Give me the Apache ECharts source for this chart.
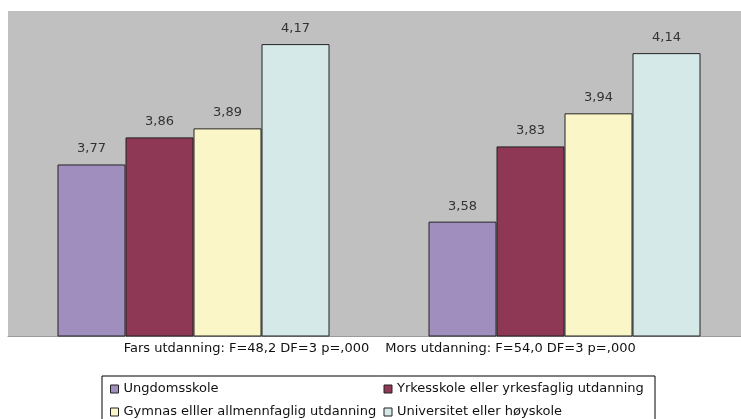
<!DOCTYPE html>
<html>
<head>
<meta charset="utf-8">
<script src="https://cdn.jsdelivr.net/npm/echarts@6/dist/echarts.min.js"></script>
<style>
  html, body { margin: 0; padding: 0; background: #ffffff; overflow: hidden; }
  /* the plot runs a few pixels past the right edge of the window */
  #chart { width: 750px; height: 419px; }
</style>
</head>
<body>
<div id="chart"></div>
<script>
// Groups along the x axis (father's / mother's education, with ANOVA result)
const categories = [
  'Fars utdanning: F=48,2 DF=3 p=,000',
  'Mors utdanning: F=54,0 DF=3 p=,000'
];

// Education levels (one series each)
const seriesNames = [
  'Ungdomsskole',
  'Yrkesskole eller yrkesfaglig utdanning',
  'Gymnas elller allmennfaglig utdanning',
  'Universitet eller høyskole'
];

// Mean scores per group, one array per education level
const ungdomsskole = [3.77, 3.58];
const yrkesskole = [3.86, 3.83];
const gymnas = [3.89, 3.94];
const universitet = [4.17, 4.14];

const seriesValues = [ungdomsskole, yrkesskole, gymnas, universitet];
const seriesColors = ['#A08FBE', '#8E3855', '#FAF6C8', '#D6E9E9'];

const FONT = '"DejaVu Sans", "Liberation Sans", Arial, sans-serif';

const chart = echarts.init(document.getElementById('chart'), null, { renderer: 'canvas' });

const option = {
  backgroundColor: '#ffffff',
  animation: false,
  grid: {
    left: 8,
    right: 0,
    top: 11,
    bottom: 83,
    show: true,
    backgroundColor: '#C0C0C0',
    borderWidth: 0
  },
  legend: {
    data: seriesNames,
    left: 102,
    top: 376,
    width: 560,
    orient: 'horizontal',
    padding: [4, 3, 4, 8],
    itemGap: 5,
    itemWidth: 8,
    itemHeight: 8,
    borderColor: '#000000',
    borderWidth: 1,
    backgroundColor: '#ffffff',
    icon: 'rect',
    itemStyle: { borderColor: '#222222', borderWidth: 1 },
    textStyle: {
      fontFamily: FONT,
      fontSize: 13,
      color: '#111111',
      width: 255,
      lineHeight: 18
    }
  },
  xAxis: {
    type: 'category',
    data: [
      { value: categories[0], textStyle: { padding: [0, 0, 0, 106] } },
      { value: categories[1], textStyle: { padding: [0, 108, 0, 0] } }
    ],
    axisLine: { show: true, lineStyle: { color: '#9a9a9a', width: 1 } },
    axisTick: { show: false },
    axisLabel: {
      interval: 0,
      margin: 6,
      fontFamily: FONT,
      fontSize: 13,
      color: '#111111'
    },
    splitLine: { show: false }
  },
  yAxis: {
    type: 'value',
    min: 3.2,
    max: 4.28,
    show: false,
    splitLine: { show: false }
  },
  series: seriesNames.map((name, i) => ({
    name: name,
    type: 'bar',
    data: seriesValues[i],
    barWidth: 68,
    barGap: '0%',
    itemStyle: {
      color: seriesColors[i],
      borderColor: '#222222',
      borderWidth: 1
    },
    label: {
      show: true,
      position: 'top',
      distance: 9,
      fontFamily: FONT,
      fontSize: 13,
      color: '#333333',
      formatter: p => p.value.toFixed(2).replace('.', ',')
    }
  }))
};

chart.setOption(option);
</script>
</body>
</html>
